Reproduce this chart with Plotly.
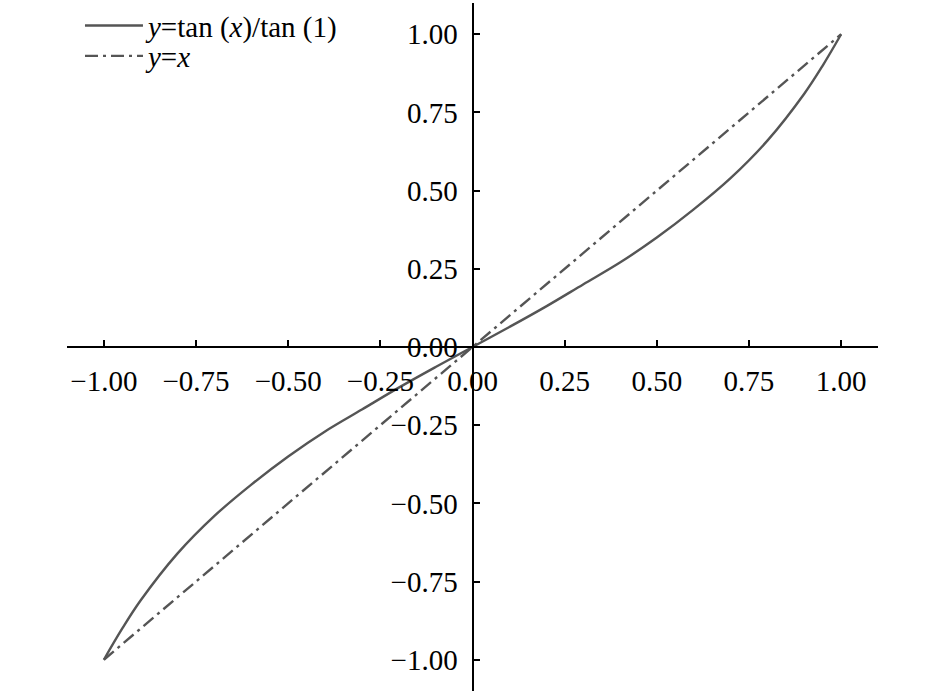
import plotly.graph_objects as go

# Data
x_vals = [-1.0, -0.95, -0.9, -0.8, -0.7, -0.6, -0.5, -0.4, -0.3, -0.2, -0.1, 0.0,
          0.1, 0.2, 0.3, 0.4, 0.5, 0.6, 0.7, 0.8, 0.9, 0.95, 1.0]
tan_ratio = [-1.0, -0.90, -0.81, -0.66, -0.54, -0.44, -0.35, -0.27, -0.20, -0.13, -0.064, 0.0,
             0.064, 0.13, 0.20, 0.27, 0.35, 0.44, 0.54, 0.66, 0.81, 0.90, 1.0]
line_x = [-1.0, 1.0]
line_y = [-1.0, 1.0]
tick_vals = [-1.0, -0.75, -0.5, -0.25, 0.0, 0.25, 0.5, 0.75, 1.0]

font_family = "Liberation Serif, Times New Roman, serif"

fig = go.Figure()
fig.add_trace(go.Scatter(
    x=x_vals, y=tan_ratio, mode="lines", line_shape="spline",
    name="<i>y</i>=tan (<i>x</i>)/tan (1)",
    line=dict(color="#555555", width=2.4),
    legend="legend",
))
fig.add_trace(go.Scatter(
    x=line_x, y=line_y, mode="lines",
    name="<i>y</i>=<i>x</i>",
    line=dict(color="#555555", width=2.4, dash="13px,5px,3px,5px"),
    legend="legend2",
))

axis_common = dict(
    range=[-1.1, 1.1], tickvals=tick_vals, tickformat=".2f",
    showgrid=False, zeroline=False, showline=True, linecolor="black", linewidth=2,
    ticks="inside", ticklen=6, tickwidth=1.5, tickcolor="black",
    tickfont=dict(family=font_family, size=29, color="black"),
    anchor="free", position=0.5, automargin=False, ticklabelstandoff=8,
)

leg_common = dict(xanchor="left", yanchor="middle", bgcolor="rgba(0,0,0,0)",
                  font=dict(family=font_family, size=29, color="black"),
                  itemwidth=58)

fig.update_layout(
    width=945, height=696,
    margin=dict(l=67, r=67, t=0, b=5),
    paper_bgcolor="white", plot_bgcolor="white",
    xaxis=dict(**axis_common),
    yaxis=dict(**axis_common),
    showlegend=True,
    legend=dict(x=0.016, y=0.967, **leg_common),
    legend2=dict(x=0.016, y=0.923, **leg_common),
)

fig.write_html("out.html", config={"displayModeBar": False},
               post_script="document.body.style.margin='0px';document.body.style.overflow='hidden';")
